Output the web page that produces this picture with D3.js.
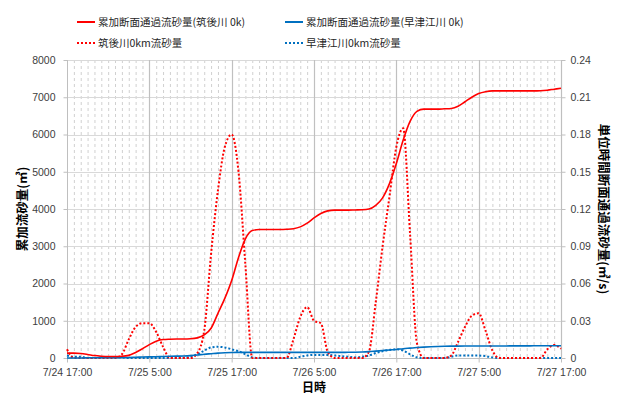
<!DOCTYPE html>
<html><head><meta charset="utf-8">
<script src="https://cdn.jsdelivr.net/npm/d3@7"></script>
<style>body{margin:0;background:#fff}svg{display:block}</style>
</head><body><svg id="c" width="619" height="396"></svg>
<script>
// ---- data (hourly from 7/24 17:00 to 7/27 17:00) ----
const xTickLabels = ["7/24 17:00","7/25 5:00","7/25 17:00","7/26 5:00","7/26 17:00","7/27 5:00","7/27 17:00"];
const leftTicks = [0,1000,2000,3000,4000,5000,6000,7000,8000];
const rightTicks = ["0","0.03","0.06","0.09","0.12","0.15","0.18","0.21","0.24"];
const seriesNames = ["累加断面通過流砂量(筑後川 0k)","累加断面通過流砂量(早津江川 0k)","筑後川0km流砂量","早津江川0km流砂量"];

const chikugoCum = [130,130,120,95,65,48,40,40,45,70,150,250,360,450,495,505,510,510,515,540,
  620,800,1200,1600,2080,2700,3200,3420,3450,3450,3450,3450,3455,3470,3520,3620,3760,3880,3950,3970,
  3970,3970,3975,3980,4000,4100,4300,4680,5220,5850,6350,6620,6680,6680,6680,6690,6700,6760,6880,7000,
  7100,7150,7170,7170,7170,7170,7170,7170,7170,7175,7190,7215,7240];
const hayatsueCum = [0,0,0,5,8,10,10,10,12,15,20,25,30,35,40,45,50,55,65,80,
  100,115,130,140,147,150,150,150,150,150,150,150,150,150,150,150,150,152,152,152,
  152,153,155,160,170,185,200,215,230,250,265,280,292,302,310,315,318,320,321,322,
  322,323,323,324,324,325,325,326,327,328,328,329,330];
const chikugoFlow = [0.007,0,0,0,0,0,0,0,0.003,0.015,0.025,0.028,0.028,0.021,0.009,0,0,0,0,0.004,
  0.022,0.084,0.135,0.170,0.180,0.150,0.075,0,0,0,0,0,0,0.015,0.033,0.041,0.030,0.028,0.005,0,
  0,0,0,0,0.005,0.045,0.090,0.130,0.170,0.185,0.100,0.012,0,0,0,0,0.002,0.013,0.025,0.034,
  0.036,0.022,0.006,0,0,0,0,0,0,0,0.007,0.0105,0.0075];
const hayatsueFlow = [0.002,0.001,0.001,0,0,0.0005,0.0008,0.0008,0.0005,0,0,0,0,0,0,0,0,0,0.001,0.003,
  0.006,0.0085,0.009,0.0085,0.007,0.0055,0.003,0.0005,0,0,0,0,0,0,0.001,0.002,0.0025,0.0025,0.0025,0.002,
  0.0015,0.001,0.0005,0.001,0.002,0.004,0.0055,0.0065,0.007,0.006,0.003,0.0005,0,0,0,0,0.001,0.002,0.002,0.002,
  0.002,0.0015,0.0005,0,0,0,0,0,0,0,0,0,0];

// ---- layout ----
const svg = d3.select("#c");
const L = 67, R = 561, T = 60, B = 358;
const x = d3.scaleLinear().domain([0,72]).range([L,R]);
const yL = d3.scaleLinear().domain([0,8000]).range([B,T]);
const yR = d3.scaleLinear().domain([0,0.24]).range([B,T]);
const numFont = "'Liberation Sans', Arial, sans-serif";
const cjkFont = "'Noto Sans CJK JP', sans-serif";

svg.append("rect").attr("width",619).attr("height",396).attr("fill","#fff");

// minor vertical gridlines (hourly, dashed)
const g = svg.append("g");
g.selectAll("line.minor").data(d3.range(1,72).filter(h=>h%12!==0)).join("line")
  .attr("x1",d=>x(d)+0.5).attr("x2",d=>x(d)+0.5).attr("y1",T).attr("y2",B)
  .attr("stroke","#d0d0d0").attr("stroke-width",1).attr("stroke-dasharray","3,3");
// horizontal gridlines
g.selectAll("line.h").data(leftTicks.slice(1)).join("line")
  .attr("x1",L).attr("x2",R).attr("y1",d=>Math.round(yL(d))+0.5).attr("y2",d=>Math.round(yL(d))+0.5)
  .attr("stroke","#d9d9d9").attr("stroke-width",1);
// major vertical gridlines
g.selectAll("line.major").data(d3.range(12,73,12)).join("line")
  .attr("x1",d=>Math.round(x(d))+0.5).attr("x2",d=>Math.round(x(d))+0.5).attr("y1",T).attr("y2",B)
  .attr("stroke","#c0c0c0").attr("stroke-width",1.2);

// axes lines
const axc = "#bfbfbf";
svg.append("line").attr("x1",L+0.5).attr("x2",L+0.5).attr("y1",T).attr("y2",B).attr("stroke",axc);
svg.append("line").attr("x1",R+0.5).attr("x2",R+0.5).attr("y1",T).attr("y2",B).attr("stroke",axc);
svg.append("line").attr("x1",L).attr("x2",R).attr("y1",B+0.5).attr("y2",B+0.5).attr("stroke",axc);

// left axis
const la = svg.append("g").attr("transform",`translate(${L+0.5},0)`)
  .call(d3.axisLeft(yL).tickValues(leftTicks).tickSize(4).tickPadding(8).tickFormat(d3.format("d")));
la.select(".domain").remove();
la.selectAll("line").attr("stroke",axc);
la.selectAll("text").attr("font-family",numFont).attr("font-size",10.5).attr("fill","#404040");

// right axis
const ra = svg.append("g").attr("transform",`translate(${R+0.5},0)`)
  .call(d3.axisRight(yR).tickValues(rightTicks.map(Number)).tickSize(4).tickPadding(5).tickFormat((d,i)=>rightTicks[i]));
ra.select(".domain").remove();
ra.selectAll("line").attr("stroke",axc);
ra.selectAll("text").attr("font-family",numFont).attr("font-size",10.5).attr("fill","#404040");

// bottom axis
const ba = svg.append("g").attr("transform",`translate(0,${B+0.5})`)
  .call(d3.axisBottom(x).tickValues(d3.range(0,73,12)).tickSize(4).tickPadding(6).tickFormat((d,i)=>xTickLabels[i]));
ba.select(".domain").remove();
ba.selectAll("line").attr("stroke",axc);
ba.selectAll("text").attr("font-family",numFont).attr("font-size",10.5).attr("fill","#404040");

// series
const curve = d3.curveMonotoneX;
const lineL = d3.line().x((d,i)=>x(i)).y(d=>yL(d)).curve(curve);
const lineR = d3.line().x((d,i)=>x(i)).y(d=>yR(d)).curve(curve);
const red = "#ff0000", blue = "#0070c0";
const plot = svg.append("g");
plot.append("path").attr("d",lineR(hayatsueFlow)).attr("fill","none").attr("stroke",blue).attr("stroke-width",2).attr("stroke-dasharray","2,2");
plot.append("path").attr("d",lineR(chikugoFlow)).attr("fill","none").attr("stroke",red).attr("stroke-width",2).attr("stroke-dasharray","2,2");
plot.append("path").attr("d",lineL(hayatsueCum)).attr("fill","none").attr("stroke",blue).attr("stroke-width",1.6);
plot.append("path").attr("d",lineL(chikugoCum)).attr("fill","none").attr("stroke",red).attr("stroke-width",1.6);

// legend
const legend = [
  {name:seriesNames[0], color:red, dash:null, x:77, y:22},
  {name:seriesNames[1], color:blue, dash:null, x:285, y:22},
  {name:seriesNames[2], color:red, dash:"2,2", x:77, y:43},
  {name:seriesNames[3], color:blue, dash:"2,2", x:285, y:43}
];
const lg = svg.append("g").selectAll("g").data(legend).join("g");
lg.append("line").attr("x1",d=>d.x).attr("x2",d=>d.x+18).attr("y1",d=>d.y).attr("y2",d=>d.y)
  .attr("stroke",d=>d.color).attr("stroke-width",2).attr("stroke-dasharray",d=>d.dash);
lg.append("text").attr("x",d=>d.x+21).attr("y",d=>d.y+4).text(d=>d.name)
  .attr("font-family",cjkFont).attr("font-size",10.5).attr("fill","#262626");

// axis titles
svg.append("text").attr("transform","translate(27,209) rotate(-90)").attr("text-anchor","middle")
  .attr("font-family",cjkFont).attr("font-weight","bold").attr("font-size",12.5).attr("fill","#000")
  .text("累加流砂量(㎥)");
svg.append("text").attr("transform","translate(599,209) rotate(90)").attr("text-anchor","middle")
  .attr("font-family",cjkFont).attr("font-weight","bold").attr("font-size",12.5).attr("fill","#000")
  .text("単位時間断面通過流砂量(㎥/s)");
svg.append("text").attr("x",314).attr("y",392).attr("text-anchor","middle")
  .attr("font-family",cjkFont).attr("font-weight","bold").attr("font-size",12).attr("fill","#000")
  .text("日時");
</script></body></html>
